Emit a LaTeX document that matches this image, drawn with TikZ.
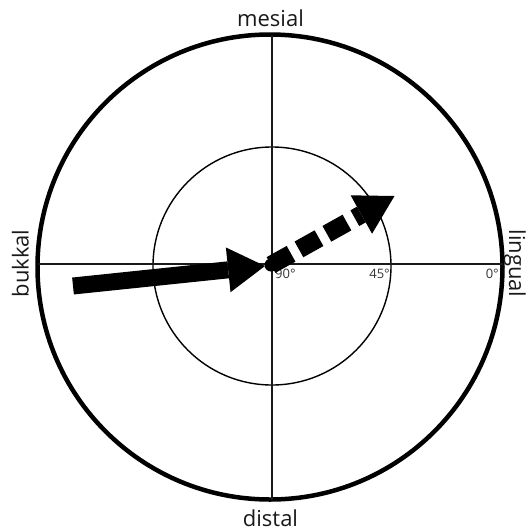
\documentclass[tikz,border=0pt]{standalone}
\usepackage{fontspec}
\setmainfont{Open Sans}
\usetikzlibrary{arrows.meta}
\begin{document}
\begin{tikzpicture}[x=1pt,y=1pt,
  lbl/.style={font=\fontsize{22}{26}\selectfont, text=black!90, inner sep=0pt},
  deg/.style={font=\fontsize{13}{15}\selectfont, text=black!80, inner sep=0pt},
  axisline/.style={line width=1.3pt, black!90},
  bigarrow/.style={line width=17pt, -{Triangle[length=37pt,width=45pt,line width=0pt]}},
  dasharrow/.style={line width=18pt, dash pattern=on 23pt off 9pt, -{Triangle[length=38pt,width=44pt,line width=0pt]}}]
\useasboundingbox (0,0) rectangle (531,-531);
% circles
\coordinate (oc) at (270,-267);
\coordinate (ic) at (272,-266);
\draw[line width=4.5pt] (oc) circle[radius=232.5];
\draw[line width=1.4pt] (ic) circle[radius=119];
% axes
\coordinate (atop) at (272,-35);
\coordinate (abot) at (272,-499.5);
\coordinate (alft) at (37.5,-264);
\coordinate (argt) at (502.5,-264);
\draw[axisline] (atop) -- (abot);
\draw[axisline] (alft) -- (argt);
% labels
\node[lbl, anchor=base] (mesial) at (270.5,-26.5) {mesial};
\node[lbl, anchor=base] (distal) at (270.5,-526.5) {distal};
\node[lbl, anchor=base, rotate=90] (bukkal) at (28.5,-263.5) {bukkal};
\node[lbl, anchor=base, rotate=-90] (lingual) at (509,-263.5) {lingual};
\node[deg, anchor=base west] (d90) at (275,-278) {90°};
\node[deg, anchor=base east] (d45) at (390,-278) {45°};
\node[deg, anchor=base east] (d0) at (499,-278) {0°};
% arrows
\coordinate (O) at (271,-265);
\coordinate (tail) at (73,-286);
\coordinate (stip) at (265,-266);
\coordinate (dtip) at (394.5,-196);
\draw[bigarrow] (tail) -- (stip);
\draw[dasharrow] (O) -- (dtip);
\fill (O) circle[radius=6.5];
\end{tikzpicture}
\end{document}
